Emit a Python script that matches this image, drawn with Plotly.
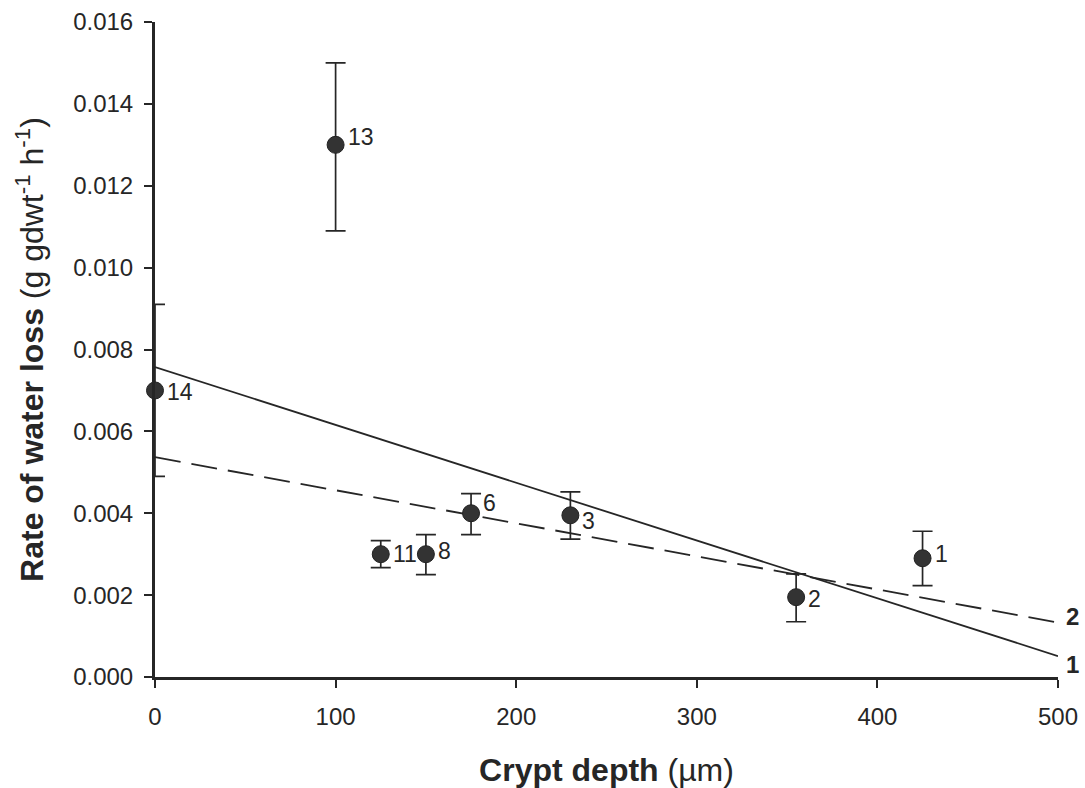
import plotly.graph_objects as go

# Species measurements: crypt depth (µm) vs rate of water loss
species = ["14", "13", "11", "8", "6", "3", "2", "1"]
crypt_depth = [0, 100, 125, 150, 175, 230, 355, 425]
water_loss = [0.0070, 0.0130, 0.0030, 0.0030, 0.0040, 0.00395, 0.00195, 0.0029]
err_plus = [0.0021, 0.0020, 0.00033, 0.00048, 0.00048, 0.00057, 0.00057, 0.00066]
err_minus = [0.0021, 0.0021, 0.00033, 0.00050, 0.00052, 0.00058, 0.00060, 0.00067]

# Regression lines (end points at x = 0 and x = 500)
line_x = [0, 500]
fit1_y = [0.00757, 0.00051]
fit2_y = [0.00537, 0.00133]

# Per-label vertical nudge (pixels) so the numbers sit beside the markers
label_yshift = {"14": -2, "13": 8, "11": 0, "8": 3, "6": 10, "3": -6, "2": -2, "1": 4}

FONT = "Arial, Liberation Sans, sans-serif"
INK = "#262626"

fig = go.Figure()

fig.add_trace(go.Scatter(
    x=line_x, y=fit1_y, mode="lines",
    line=dict(color=INK, width=1.8),
    showlegend=False, hoverinfo="skip", cliponaxis=False,
))
fig.add_trace(go.Scatter(
    x=line_x, y=fit2_y, mode="lines",
    line=dict(color=INK, width=1.8, dash="26px,11px"),
    showlegend=False, hoverinfo="skip", cliponaxis=False,
))

fig.add_trace(go.Scatter(
    x=crypt_depth, y=water_loss, mode="markers",
    marker=dict(size=17, color="#333333", line=dict(color="#222222", width=1)),
    error_y=dict(type="data", symmetric=False, array=err_plus, arrayminus=err_minus,
                 color=INK, thickness=1.7, width=10),
    showlegend=False, cliponaxis=False,
))

for name, xv, yv in zip(species, crypt_depth, water_loss):
    fig.add_annotation(
        x=xv, y=yv, text=name, showarrow=False,
        xanchor="left", yanchor="middle", xshift=10, yshift=label_yshift[name],
        font=dict(family=FONT, size=23, color=INK),
    )

# Line identifiers at the right-hand end of each fit
fig.add_annotation(x=line_x[-1], y=fit1_y[-1], text="<b>1</b>", showarrow=False,
                   xanchor="left", yanchor="middle", xshift=6, yshift=-8,
                   font=dict(family=FONT, size=24, color=INK))
fig.add_annotation(x=line_x[-1], y=fit2_y[-1], text="<b>2</b>", showarrow=False,
                   xanchor="left", yanchor="middle", xshift=6, yshift=6,
                   font=dict(family=FONT, size=24, color=INK))

fig.update_layout(
    width=1085, height=788,
    margin=dict(l=155, r=27, t=22, b=111),
    paper_bgcolor="white", plot_bgcolor="white",
    font=dict(family=FONT, size=24, color=INK),
)

fig.update_xaxes(
    range=[0, 500], tickvals=[0, 100, 200, 300, 400, 500],
    automargin=False,
    showgrid=False, zeroline=False,
    showline=True, linecolor=INK, linewidth=3,
    ticks="outside", ticklen=8, tickwidth=1.5, tickcolor=INK,
    ticklabelstandoff=8,
    tickfont=dict(family=FONT, size=24, color=INK),
    title=dict(text="<b>Crypt depth</b> (µm)", font=dict(family=FONT, size=32, color=INK),
               standoff=30),
)
fig.update_yaxes(
    range=[0, 0.016], tickvals=[0, 0.002, 0.004, 0.006, 0.008, 0.010, 0.012, 0.014, 0.016],
    tickformat=".3f",
    automargin=False,
    showgrid=False, zeroline=False,
    showline=True, linecolor=INK, linewidth=3,
    ticks="outside", ticklen=8, tickwidth=1.5, tickcolor=INK,
    ticklabelstandoff=6,
    tickfont=dict(family=FONT, size=24, color=INK),
    title=dict(text="<b>Rate of water loss</b> (g gdwt<sup>-1</sup> h<sup>-1</sup>)",
               font=dict(family=FONT, size=32, color=INK), standoff=20),
)

fig.write_html("out.html")
